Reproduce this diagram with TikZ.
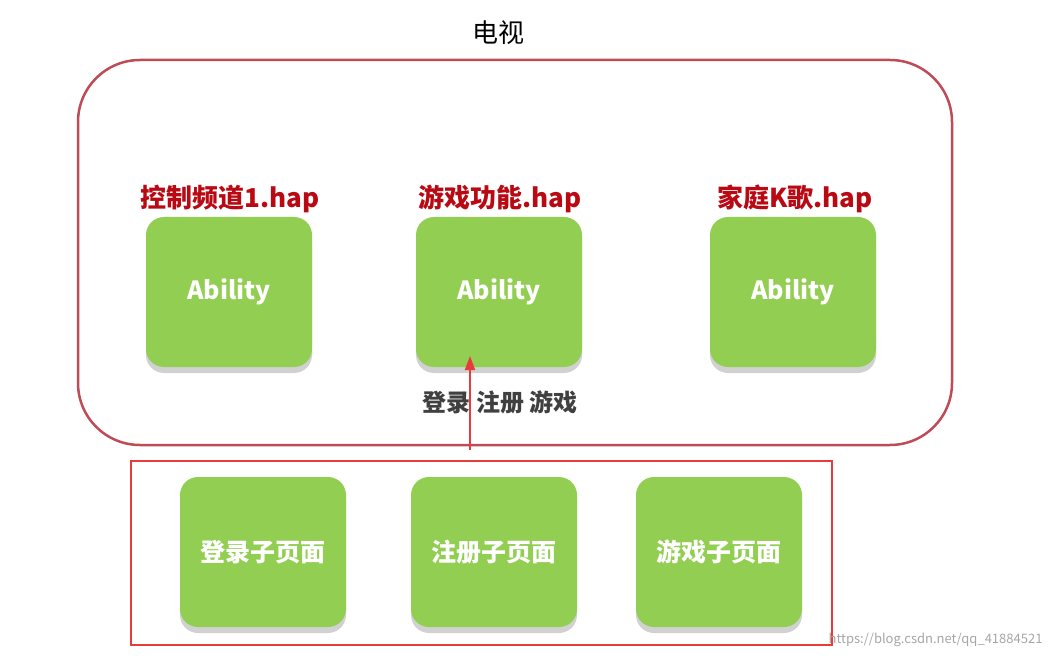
\documentclass[tikz,border=0pt]{standalone}
\usepackage{fontspec}
\setmainfont{Noto Sans CJK SC}
\usetikzlibrary{arrows.meta}
\definecolor{grn}{RGB}{146,206,82}
\definecolor{frame}{RGB}{190,75,85}
\definecolor{lbl}{RGB}{185,10,20}
\definecolor{rd}{RGB}{232,60,60}
\tikzset{
 box/.style={fill=grn,rounded corners=18pt,minimum width=166pt,minimum height=150pt,text=white,font=\bfseries\fontsize{25}{28}\selectfont},
 shadowbox/.style={fill=black!18,rounded corners=18pt,minimum width=166pt,minimum height=150pt},
 hap/.style={text=lbl,font=\bfseries\fontsize{26}{30}\selectfont}
}
\begin{document}
\begin{tikzpicture}[x=1pt,y=-1pt]
\useasboundingbox (0,0) rectangle (1052,660);
\node (title) at (498,33) {\fontsize{26}{30}\selectfont 电视};
\draw[frame,line width=2.5pt,rounded corners=62pt] (78,60) rectangle (952,445);
\foreach \n/\x/\y/\t in {a/229/292/Ability,b/499/292/Ability,c/793/292/Ability,d/263/552/登录子页面,e/494/552/注册子页面,f/719/552/游戏子页面}{
 \node[shadowbox] at (\x,\y+6) {};
 \node[box] (\n) at (\x,\y) {\t};
}
\node[hap] (la) at (230,199) {控制频道1.hap};
\node[hap] (lb) at (500,199) {游戏功能.hap};
\node[hap] (lc) at (795,199) {家庭K歌.hap};
\node[text=black!75,font=\bfseries\fontsize{24}{28}\selectfont] (sub) at (500,402) {登录 注册 游戏};
\draw[rd,line width=2.5pt] (131,461) rectangle (832,645);
\coordinate (s) at (470,450);
\draw[rd,line width=2pt,-{Triangle[length=14pt,width=10pt]}] (s) -- (470,356);
\node[text=black!35,font=\fontsize{13}{15}\selectfont,anchor=east] (wm) at (1046,640) {https://blog.csdn.net/qq\_41884521};
\end{tikzpicture}
\end{document}
